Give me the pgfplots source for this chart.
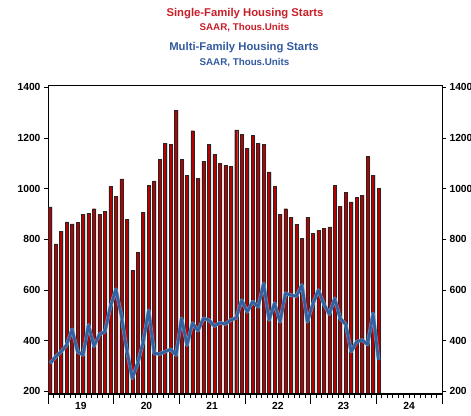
\documentclass[border=0pt]{standalone}
\usepackage{fontspec}
\setmainfont{Liberation Sans}
\usepackage{pgfplots}
\pgfplotsset{compat=1.18}
\usepackage{pgfplotstable}

\definecolor{barred}{RGB}{185,0,0}
\definecolor{titlered}{RGB}{200,30,40}
\definecolor{titleblue}{RGB}{50,90,160}
\definecolor{lineblue}{RGB}{52,96,160}

\pgfplotstableread{
x sf mf
0.4 928 311
1.4 782 337
2.4 833 357
3.4 869 383
4.4 861 445
5.4 866 357
6.4 899 344
7.4 903 462
8.4 921 379
9.4 900 425
10.4 911 436
11.4 1009 534
12.4 970 603
13.4 1039 501
14.4 878 363
15.4 677 252
16.4 750 311
17.4 907 396
18.4 1012 520
19.4 1031 350
20.4 1116 348
21.4 1180 357
22.4 1174 366
23.4 1310 344
24.4 1116 488
25.4 1053 383
26.4 1229 469
27.4 1042 440
28.4 1109 488
29.4 1174 482
30.4 1137 458
31.4 1100 471
32.4 1093 466
33.4 1088 482
34.4 1232 490
35.4 1216 560
36.4 1158 514
37.4 1210 554
38.4 1180 534
39.4 1176 626
40.4 1067 482
41.4 1008 548
42.4 900 475
43.4 921 587
44.4 888 580
45.4 860 576
46.4 805 620
47.4 888 475
48.4 824 545
49.4 836 600
50.4 845 545
51.4 849 505
52.4 1012 567
53.4 930 488
54.4 987 465
55.4 948 357
56.4 966 396
57.4 975 403
58.4 1128 385
59.4 1054 508
60.4 1002 324
}\data

\pgfplotsset{
  common/.style={
    at={(48pt,-394pt)}, anchor=south west,
    scale only axis, width=394pt, height=309pt,
    xmin=0, xmax=72, ymin=189.7, ymax=1409.5,
    tick align=outside,
    tick label style={font=\bfseries\fontsize{10.3}{12}\selectfont},
    /pgf/number format/assume math mode=true,
    /pgf/number format/1000 sep={},
  }
}

\begin{document}
\begin{tikzpicture}
% main axis: data and x ticks
\begin{axis}[common,
  axis line style={black, line width=0.8pt},
  ytick=\empty,
  xtick={0,12,...,72}, xticklabels={},
  minor x tick num=11,
  xtick pos=left,
  major tick length=10pt, minor tick length=4pt,
  every tick/.style={black, line width=0.7pt},
]
\addplot[ybar, bar width=3pt, bar shift=1pt, fill=gray!50, draw=none] table[x=x,y=sf]{\data};
\addplot[ybar, bar width=3pt, bar shift=0pt, fill=barred, draw=black!85, line width=0.45pt] table[x=x,y=sf]{\data};
\addplot[lineblue!65, line width=3.6pt, no markers, line join=round] table[x=x,y=mf]{\data};
\addplot[lineblue, line width=2.6pt, no markers, line join=round] table[x=x,y=mf]{\data};
\draw[black, line width=1.4pt] (rel axis cs:0,0) -- (rel axis cs:1,0);
\end{axis}
% left y ticks and labels, x labels
\begin{axis}[common,
  axis line style={draw=none},
  ytick={200,400,...,1400},
  ytick pos=both,
  major tick length=4pt,
  every tick/.style={black, line width=0.7pt},
  xtick={6,18,...,66}, xticklabels={19,20,21,22,23,24},
  xtick pos=left,
  x tick style={draw=none},
  xticklabel style={yshift=-4pt, inner sep=0.5pt},
]
\end{axis}
% right y labels
\begin{axis}[common,
  axis line style={draw=none},
  ytick={200,400,...,1400},
  ytick pos=right, yticklabel pos=right,
  major tick length=4pt,
  every tick/.style={black, line width=0.7pt},
  xtick=\empty,
]
\end{axis}
\node[text=titlered, font=\bfseries\fontsize{11.3}{13}\selectfont] at (245pt,-13.5pt) {Single-Family Housing Starts};
\node[text=titlered, font=\bfseries\fontsize{9.8}{12}\selectfont] at (244.5pt,-28pt) {SAAR, Thous.Units};
\node[text=titleblue, font=\bfseries\fontsize{11.3}{13}\selectfont] at (244pt,-48pt) {Multi-Family Housing Starts};
\node[text=titleblue, font=\bfseries\fontsize{9.8}{12}\selectfont] at (244.5pt,-63pt) {SAAR, Thous.Units};
\pgfresetboundingbox
\useasboundingbox (0,0) rectangle (471pt,-415pt);
\end{tikzpicture}
\end{document}
